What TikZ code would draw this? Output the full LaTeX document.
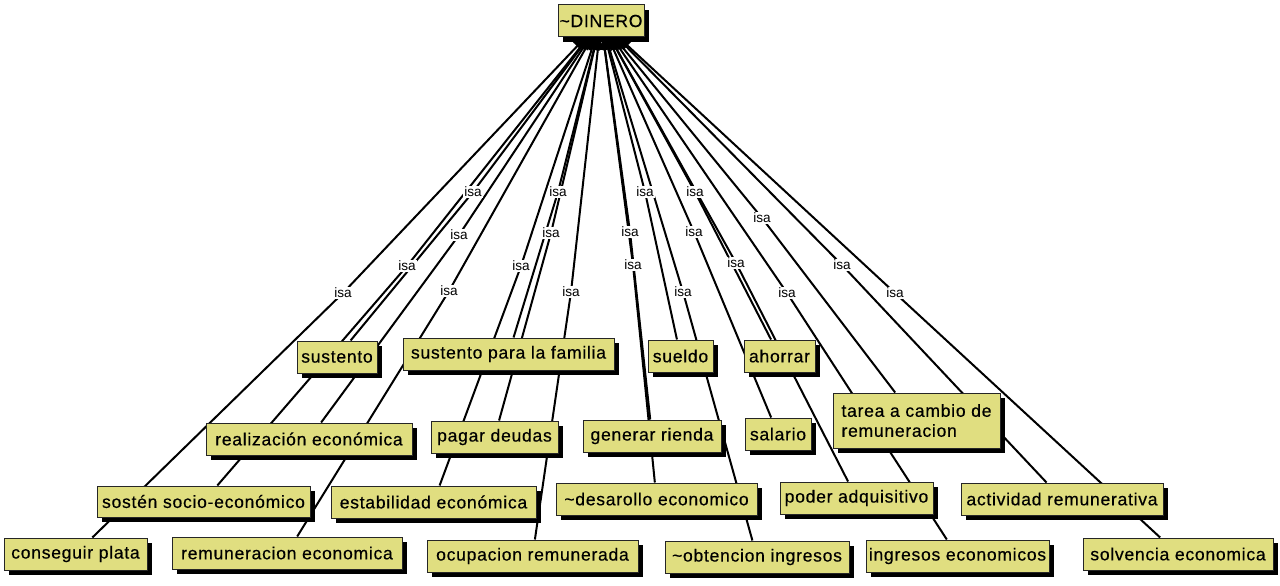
\documentclass[tikz,border=0pt]{standalone}
\usepackage{fontspec}
\setmainfont{Liberation Sans}[LetterSpace=4,FakeBold=0.4]
\newfontfamily\linkfont{Liberation Sans}
\usetikzlibrary{shadows,arrows.meta}
\pgfdeclarelayer{backdrop}
\pgfdeclarelayer{links}
\pgfsetlayers{backdrop,links,main}
\definecolor{conceptfill}{RGB}{224,222,128}

\tikzset{
  concept/.style={draw=black!85, line width=0.75pt, fill=conceptfill,
    inner xsep=1pt, inner ysep=1pt, text=black,
    font=\fontsize{13.2pt}{15pt}\selectfont,
    drop shadow={shadow xshift=3.75pt, shadow yshift=-3.75pt, fill=black, opacity=1}},
  linker/.style={fill=white, inner sep=0.8pt, text=black,
    font=\linkfont\fontsize{10.2pt}{11.5pt}\selectfont},
  link/.style={line width=1.5pt, black},
  tohead/.style={link, -{Triangle[length=9pt,width=8pt]}},
}

% concept box given by its left, top, right and bottom edges (pixels)
\newcommand\cpt[6]{%
  \node[concept, minimum width={(#4-#2)*0.75pt}, minimum height={(#5-#3)*0.75pt}]
    (#1) at ({(#2+#4)/2},{(#3+#5)/2}) {#6};}

% linking phrase "isa" from DINERO to a concept
\newcommand\isalink[4]{%
  \node[linker] (#1) at (#2,#3) {isa};
  \begin{pgfonlayer}{links}
    \draw[tohead] (#1.center) -- (dinero);
    \draw[link] (#1.center) -- (#4);
  \end{pgfonlayer}}

\begin{document}
\begin{tikzpicture}[x=0.75pt,y=-0.75pt]
\useasboundingbox (0,0) rectangle (1280,585);
\begin{pgfonlayer}{backdrop}
  \fill[white] (0,0) rectangle (1280,585);
\end{pgfonlayer}

% concepts
\cpt{dinero}{558}{5}{644}{37}{\char`~DINERO}
\cpt{sustento}{297}{341}{377}{373}{sustento}
\cpt{familia}{403}{338}{614}{370}{sustento para la familia}
\cpt{sueldo}{648}{340}{713}{372}{sueldo}
\cpt{ahorrar}{744}{340}{815}{372}{ahorrar}
\cpt{realizacion}{206}{423}{412}{455}{realización económica}
\cpt{deudas}{431}{421}{558}{453}{pagar deudas}
\cpt{rienda}{583}{420}{721}{452}{generar rienda}
\cpt{salario}{745}{418}{811}{450}{salario}
\node[concept, align=left, minimum width={167*0.75pt}, minimum height={55*0.75pt}]
  (tarea) at (916.5,420.5) {tarea a cambio de\\remuneracion};
\cpt{sosten}{97}{486}{310}{517}{sostén socio-económico}
\cpt{estabilidad}{331}{486}{536}{518}{estabilidad económica}
\cpt{desarollo}{556}{483}{757}{515}{\char`~desarollo economico}
\cpt{poder}{780}{482}{933}{514}{poder adquisitivo}
\cpt{actividad}{961}{483}{1163}{515}{actividad remunerativa}
\cpt{plata}{4}{538}{147}{570}{conseguir plata}
\cpt{remuneracion}{172}{537}{402}{569}{remuneracion economica}
\cpt{ocupacion}{427}{540}{638}{572}{ocupacion remunerada}
\cpt{obtencion}{665}{541}{849}{573}{\char`~obtencion ingresos}
\cpt{ingresos}{866}{540}{1049}{572}{ingresos economicos}
\cpt{solvencia}{1083}{538}{1273}{570}{solvencia economica}

% isa links
\isalink{lA}{473}{192}{sustento}
\isalink{lB}{558}{192}{familia}
\isalink{lC}{645}{192}{sueldo}
\isalink{lD}{695}{192}{ahorrar}
\isalink{lE}{762}{218}{tarea}
\isalink{lF}{459}{235}{realizacion}
\isalink{lG}{551}{233}{deudas}
\isalink{lH}{630}{232}{rienda}
\isalink{lI}{694}{232}{salario}
\isalink{lJ}{407}{266}{sosten}
\isalink{lK}{521}{266}{estabilidad}
\isalink{lL}{633}{265}{desarollo}
\isalink{lM}{736}{263}{poder}
\isalink{lN}{842}{265}{actividad}
\isalink{lO}{343}{293}{plata}
\isalink{lP}{449}{291}{remuneracion}
\isalink{lQ}{571}{292}{ocupacion}
\isalink{lR}{683}{292}{obtencion}
\isalink{lS}{787}{293}{ingresos}
\isalink{lT}{895}{293}{solvencia}
\end{tikzpicture}
\end{document}
